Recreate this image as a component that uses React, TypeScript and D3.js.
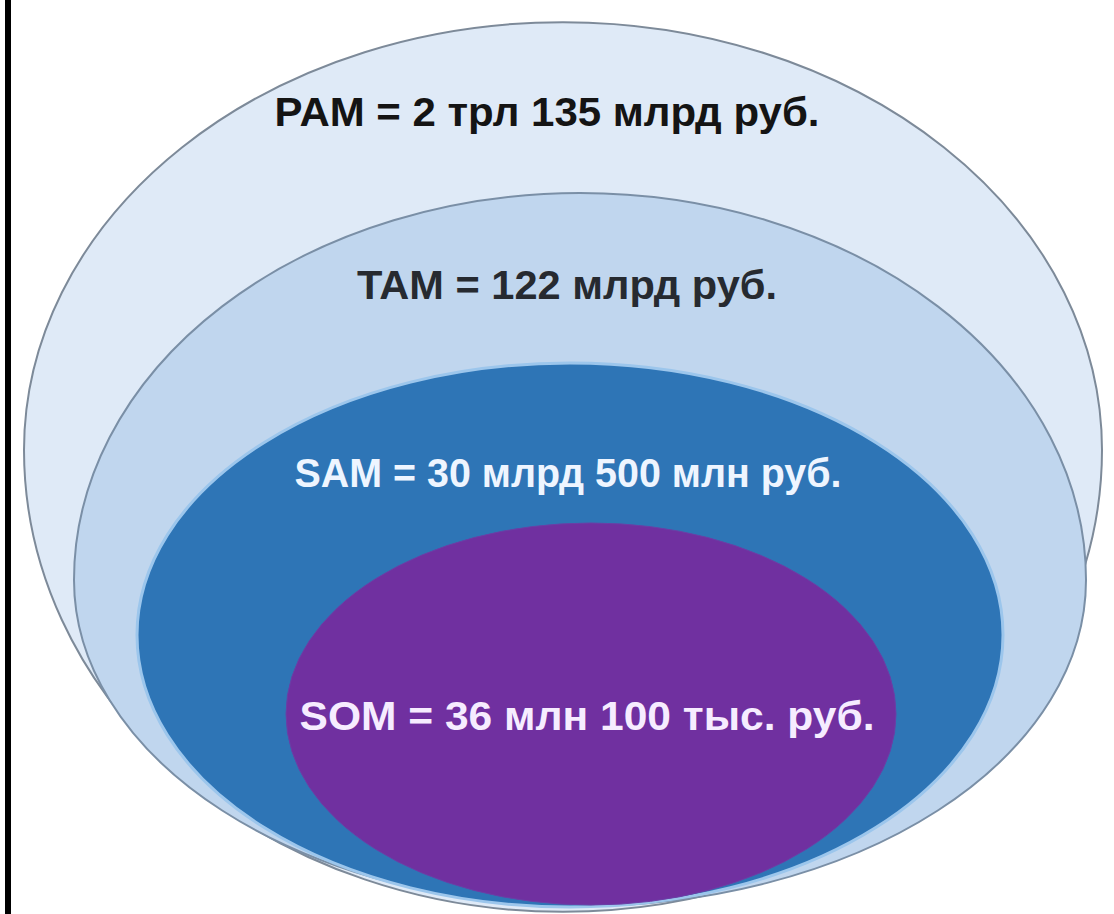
import { useEffect, useRef } from "react"
import * as d3 from "d3"

// Market levels, from the widest to the narrowest
const segments = ["PAM", "TAM", "SAM", "SOM"]
const labels = [
  "PAM = 2 трл 135 млрд руб.",
  "TAM = 122 млрд руб.",
  "SAM = 30 млрд 500 млн руб.",
  "SOM = 36 млн 100 тыс. руб.",
]
// market sizes in rubles
const values = [2135e9, 122e9, 30.5e9, 36.1e6]

const W = 1114
const H = 914

// drawing geometry of each nested shape: centre x, widest y, half width,
// upper and lower half heights, plus label placement
const layout: Record<string, any> = {
  PAM: { cx: 563, cy: 450, rx: 539, ryT: 428, ryB: 462, fill: "#dfeaf7", stroke: "#7d8a99", sw: 2, text: "#141414", tx: 547, ty: 126, tw: 545 },
  TAM: { cx: 580, cy: 580, rx: 506, ryT: 387, ryB: 326, fill: "#c0d6ee", stroke: "#7a8fa6", sw: 2, text: "#262a30", tx: 567, ty: 299, tw: 420 },
  SAM: { cx: 570, cy: 635, rx: 433, ryT: 272, ryB: 272, fill: "#2e75b6", stroke: "#9cc6ec", sw: 3, text: "#eef5ff", tx: 568, ty: 487, tw: 547 },
  SOM: { cx: 591, cy: 714, rx: 305, ryT: 191, ryB: 191, fill: "#7030a0", stroke: "#6a3fa6", sw: 1, text: "#f6ecff", tx: 587, ty: 730, tw: 575 },
}

// upper half-ellipse + lower half-ellipse joined at the widest line
function eggPath(g: any) {
  const top = `A ${g.rx} ${g.ryT} 0 0 1 ${g.cx + g.rx} ${g.cy}`
  const bottom = `A ${g.rx} ${g.ryB} 0 0 1 ${g.cx - g.rx} ${g.cy}`
  return `M ${g.cx - g.rx} ${g.cy} ${top} ${bottom} Z`
}

export default function App() {
  const svgRef = useRef<SVGSVGElement>(null)

  useEffect(() => {
    if (!svgRef.current) return
    const svg = d3.select(svgRef.current)
    svg.selectAll("*").remove()

    svg.append("rect").attr("width", W).attr("height", H).attr("fill", "#ffffff")

    const data = segments.map((s, i) => ({ key: s, label: labels[i], value: values[i] }))

    svg.selectAll(".ring")
      .data(data)
      .join("path")
      .attr("class", "ring")
      .attr("d", (d) => eggPath(layout[d.key]))
      .attr("fill", (d) => layout[d.key].fill)
      .attr("stroke", (d) => layout[d.key].stroke)
      .attr("stroke-width", (d) => layout[d.key].sw)

    svg.selectAll(".ring-label")
      .data(data)
      .join("text")
      .attr("class", "ring-label")
      .attr("x", (d) => layout[d.key].tx)
      .attr("y", (d) => layout[d.key].ty)
      .attr("text-anchor", "middle")
      .attr("textLength", (d) => layout[d.key].tw)
      .attr("lengthAdjust", "spacingAndGlyphs")
      .attr("font-family", "Liberation Sans, Arial, sans-serif")
      .attr("font-weight", "bold")
      .attr("font-size", "40px")
      .attr("fill", (d) => layout[d.key].text)
      .text((d) => d.label)

    // black frame line on the left edge
    svg.append("rect").attr("x", 5).attr("y", 0).attr("width", 6).attr("height", H).attr("fill", "#000000")
  }, [])

  return (
    <svg
      ref={svgRef}
      width={W}
      height={H}
      style={{ position: "absolute", left: 0, top: 0, display: "block" }}
    />
  )
}
